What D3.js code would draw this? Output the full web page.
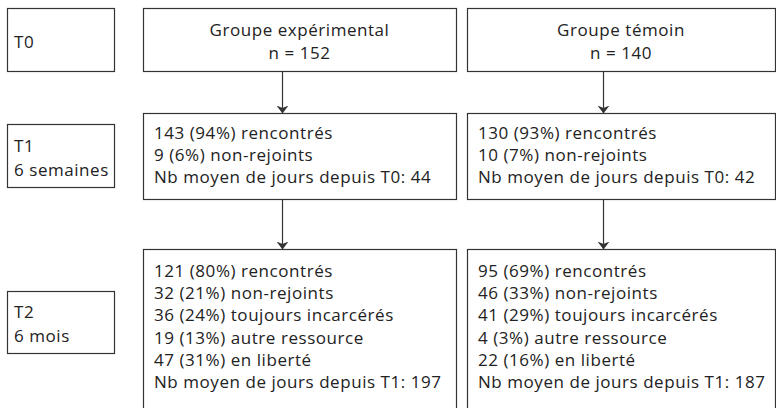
<!DOCTYPE html>
<html>
<head>
<meta charset="utf-8">
<script src="https://cdn.jsdelivr.net/npm/d3@7"></script>
<style>
  body { margin: 0; background: #fff; }
  text { font-family: "Open Sans", sans-serif; fill: #222; letter-spacing: 0.55px; }
</style>
</head>
<body>
<div id="chart"></div>
<script>
// data
let stages = [["T0"], ["T1", "6 semaines"], ["T2", "6 mois"]];
let groups = ["Groupe expérimental", "Groupe témoin"];
let groupN = [152, 140];
let t1Lines = [
    ["143 (94%) rencontrés", "9 (6%) non-rejoints", "Nb moyen de jours depuis T0: 44"],
    ["130 (93%) rencontrés", "10 (7%) non-rejoints", "Nb moyen de jours depuis T0: 42"]
];
let t2Lines = [
    ["121 (80%) rencontrés", "32 (21%) non-rejoints", "36 (24%) toujours incarcérés",
     "19 (13%) autre ressource", "47 (31%) en liberté", "Nb moyen de jours depuis T1: 197"],
    ["95 (69%) rencontrés", "46 (33%) non-rejoints", "41 (29%) toujours incarcérés",
     "4 (3%) autre ressource", "22 (16%) en liberté", "Nb moyen de jours depuis T1: 187"]
];

let width = 776, height = 408;
let svg = d3.select("#chart").append("svg")
    .attr("width", width)
    .attr("height", height);

let stroke = "#333";
let fontSize = 17;

// layout of the flow boxes
let rows = [
    { top: 8, bottom: 71 },
    { top: 113, bottom: 199 },
    { top: 249, bottom: 412 }
];
let labelBoxes = [
    { top: 8, bottom: 71 },
    { top: 124, bottom: 187 },
    { top: 291, bottom: 353 }
];
let cols = [
    { x0: 143, x1: 456, arrow: 282 },
    { x0: 467, x1: 775, arrow: 603 }
];
let labelX0 = 7, labelX1 = 114;
let lineH = 22.2;

function box(x0, y0, x1, y1) {
    svg.append("rect")
        .attr("x", x0 + 0.5)
        .attr("y", y0 + 0.5)
        .attr("width", x1 - x0)
        .attr("height", y1 - y0)
        .attr("fill", "none")
        .attr("stroke", stroke)
        .attr("stroke-width", 1.2);
}

function lines(arr, x, y0, dy, anchor) {
    svg.append("g").selectAll("text")
        .data(arr)
        .enter().append("text")
        .attr("x", x)
        .attr("y", (d, i) => y0 + i * dy)
        .attr("text-anchor", anchor || "start")
        .attr("font-size", fontSize)
        .text(d => d);
}

// stage labels on the left
stages.forEach((s, i) => {
    let b = labelBoxes[i];
    box(labelX0, b.top, labelX1, b.bottom);
    let mid = (b.top + b.bottom) / 2;
    let first = mid + 8 - (s.length - 1) * 12;
    lines(s, labelX0 + 7, first, 24);
});

// arrow head
svg.append("defs").append("marker")
    .attr("id", "head")
    .attr("viewBox", "0 0 8 12")
    .attr("refX", 8)
    .attr("refY", 6)
    .attr("markerUnits", "userSpaceOnUse")
    .attr("markerWidth", 8)
    .attr("markerHeight", 12)
    .attr("orient", "auto-start-reverse")
    .append("path")
    .attr("d", "M0,0 L8,6 L0,12 L2.5,6 Z")
    .attr("fill", stroke);

cols.forEach((c, gi) => {
    // T0
    box(c.x0, rows[0].top, c.x1, rows[0].bottom);
    let cx = (c.x0 + c.x1) / 2;
    lines([groups[gi], "n = " + groupN[gi]], cx, 36, 23, "middle");

    // T1
    box(c.x0, rows[1].top, c.x1, rows[1].bottom);
    lines(t1Lines[gi], c.x0 + 11, 139, lineH);

    // T2
    box(c.x0, rows[2].top, c.x1, rows[2].bottom);
    lines(t2Lines[gi], c.x0 + 11, 277, lineH);

    // arrows between rows
    [0, 1].forEach(r => {
        svg.append("line")
            .attr("x1", c.arrow + 0.5)
            .attr("x2", c.arrow + 0.5)
            .attr("y1", rows[r].bottom + 0.5)
            .attr("y2", rows[r + 1].top + 0.5)
            .attr("stroke", stroke)
            .attr("stroke-width", 1.2)
            .attr("marker-end", "url(#head)");
    });
});
</script>
</body>
</html>
